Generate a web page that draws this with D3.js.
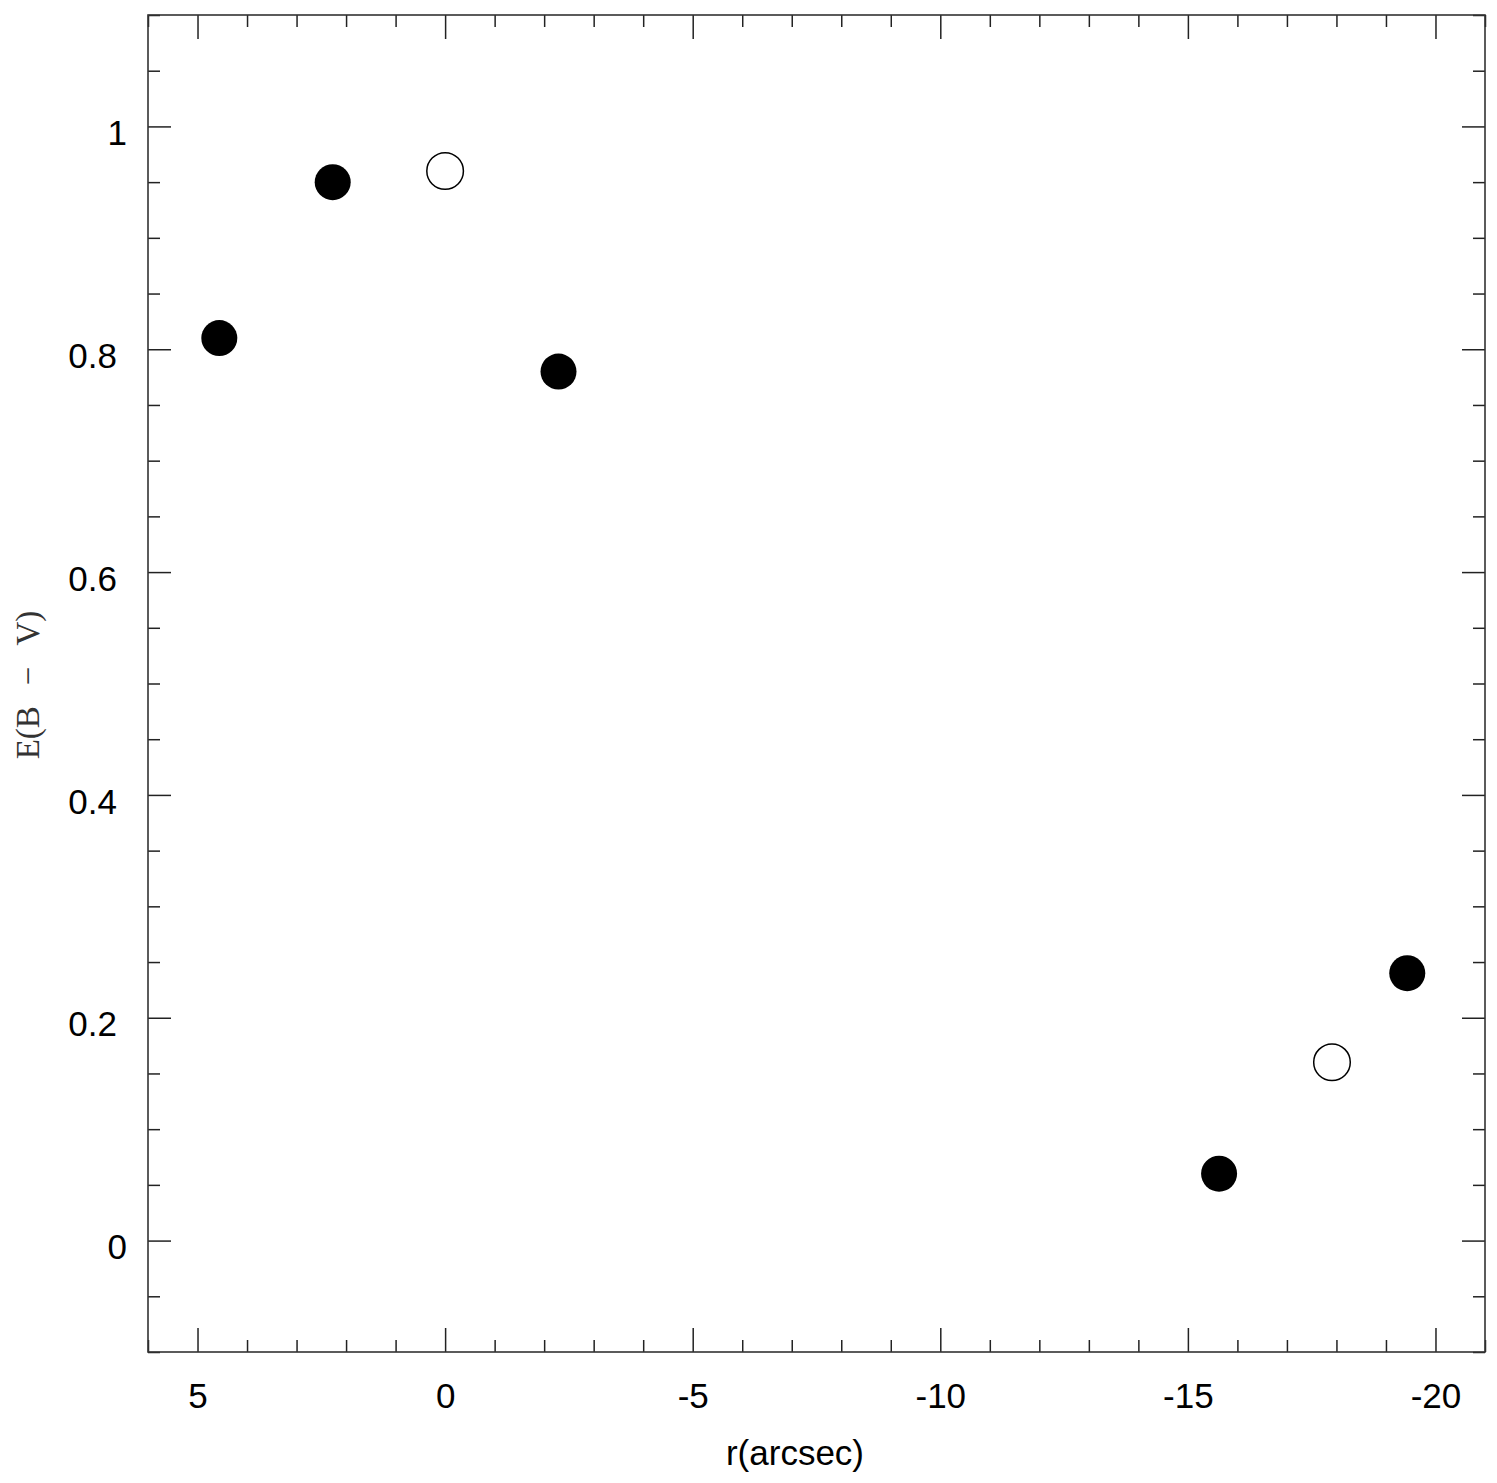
<!DOCTYPE html>
<html>
<head>
<meta charset="utf-8">
<script src="https://cdn.jsdelivr.net/npm/d3@7"></script>
<style>
  html, body { margin: 0; padding: 0; background: #fff; }
  svg { display: block; }
</style>
</head>
<body>
<script>
// ---- data ----
const filledX = [4.56, 2.27, -2.29, -15.63, -19.43];
const filledY = [0.81, 0.95, 0.78, 0.06, 0.24];
const openX = [0, -17.91];
const openY = [0.96, 0.16];

const xMajorTicks = [5, 0, -5, -10, -15, -20];
const xTickLabels = ["5", "0", "-5", "-10", "-15", "-20"];
const xMinorTicks = [6, 4, 3, 2, 1, -1, -2, -3, -4, -6, -7, -8, -9, -11, -12, -13, -14, -16, -17, -18, -19, -21];
const yMajorTicks = [0, 0.2, 0.4, 0.6, 0.8, 1];
const yTickLabels = ["0", "0.2", "0.4", "0.6", "0.8", "1"];
const yMinorTicks = [-0.1, -0.05, 0.05, 0.1, 0.15, 0.25, 0.3, 0.35, 0.45, 0.5, 0.55, 0.65, 0.7, 0.75, 0.85, 0.9, 0.95, 1.05, 1.1];

const xLabel = "r(arcsec)";
const yLabelParts = ["E(B", "\u2212", "V)"];

// ---- layout ----
const W = 1497, H = 1483;
const L = 148, R = 1485, T = 15, B = 1352;

const svg = d3.select("body").append("svg").attr("width", W).attr("height", H);

const x = d3.scaleLinear().domain([6, -21]).range([L, R]);
const y = d3.scaleLinear().domain([-0.1, 1.1]).range([B, T]);

const tickColor = "#222";
const fontSans = "'Liberation Sans', Arial, Helvetica, sans-serif";

function styleAxis(g) {
  g.select(".domain").remove();
  g.selectAll(".tick line").attr("stroke", tickColor).attr("stroke-width", 1.5);
}

// bottom major with labels
svg.append("g").attr("transform", `translate(0,${B})`)
  .call(d3.axisBottom(x).tickValues(xMajorTicks).tickSize(-24).tickPadding(31)
    .tickFormat((d, i) => xTickLabels[i]))
  .call(styleAxis)
  .call(g => g.selectAll(".tick text").attr("font-family", fontSans).attr("font-size", 35).attr("fill", "#000"));
// bottom minor
svg.append("g").attr("transform", `translate(0,${B})`)
  .call(d3.axisBottom(x).tickValues(xMinorTicks).tickSize(-12).tickFormat(""))
  .call(styleAxis);
// top major/minor
svg.append("g").attr("transform", `translate(0,${T})`)
  .call(d3.axisTop(x).tickValues(xMajorTicks).tickSize(-24).tickFormat(""))
  .call(styleAxis);
svg.append("g").attr("transform", `translate(0,${T})`)
  .call(d3.axisTop(x).tickValues(xMinorTicks).tickSize(-12).tickFormat(""))
  .call(styleAxis);

// left major with labels
svg.append("g").attr("transform", `translate(${L},0)`)
  .call(d3.axisLeft(y).tickValues(yMajorTicks).tickSize(-23).tickPadding(30)
    .tickFormat((d, i) => yTickLabels[i]))
  .call(styleAxis)
  .call(g => g.selectAll(".tick text")
    .attr("font-family", fontSans).attr("font-size", 35).attr("fill", "#000")
    .attr("dy", "0.52em")
    .attr("x", (d, i) => yTickLabels[i].indexOf(".") < 0 ? -21 : -31));
// left minor
svg.append("g").attr("transform", `translate(${L},0)`)
  .call(d3.axisLeft(y).tickValues(yMinorTicks).tickSize(-12).tickFormat(""))
  .call(styleAxis);
// right major/minor
svg.append("g").attr("transform", `translate(${R},0)`)
  .call(d3.axisRight(y).tickValues(yMajorTicks).tickSize(-23).tickFormat(""))
  .call(styleAxis);
svg.append("g").attr("transform", `translate(${R},0)`)
  .call(d3.axisRight(y).tickValues(yMinorTicks).tickSize(-12).tickFormat(""))
  .call(styleAxis);

// frame
svg.append("rect")
  .attr("x", L).attr("y", T).attr("width", R - L).attr("height", B - T)
  .attr("fill", "none").attr("stroke", "#333").attr("stroke-width", 1.6);

// points
const filled = filledX.map((v, i) => ({ x: v, y: filledY[i] }));
const open = openX.map((v, i) => ({ x: v, y: openY[i] }));

svg.append("g").selectAll("circle").data(filled).join("circle")
  .attr("cx", d => x(d.x)).attr("cy", d => y(d.y)).attr("r", 18)
  .attr("fill", "#000");

svg.append("g").selectAll("circle").data(open).join("circle")
  .attr("cx", d => x(d.x)).attr("cy", d => y(d.y)).attr("r", 18.3)
  .attr("fill", "#fff").attr("stroke", "#000").attr("stroke-width", 1.5);

// axis titles
svg.append("text")
  .attr("x", 795).attr("y", 1465)
  .attr("text-anchor", "middle")
  .attr("font-family", fontSans).attr("font-size", 35).attr("fill", "#000")
  .text(xLabel);

const yl = svg.append("text")
  .attr("transform", "translate(39,685) rotate(-90)")
  .attr("text-anchor", "middle")
  .attr("font-family", "'Liberation Serif', 'Times New Roman', serif")
  .attr("font-size", 33).attr("fill", "#333");
yl.selectAll("tspan").data(yLabelParts).join("tspan")
  .attr("dx", (d, i) => i === 0 ? 0 : 21)
  .text(d => d);
</script>
</body>
</html>
